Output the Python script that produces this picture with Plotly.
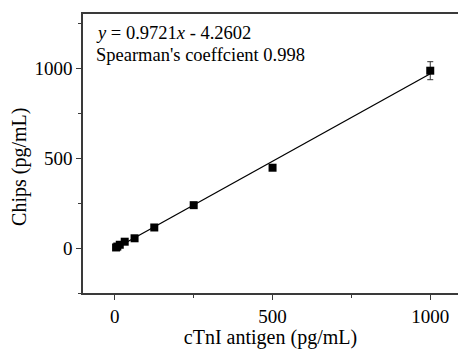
import plotly.graph_objects as go

# Data
antigen = [3.9, 7.8, 15.6, 31.25, 62.5, 125, 250, 500, 1000]
chips = [3, 8, 18, 35, 54, 114, 238, 446, 985]
chips_err = [1, 1, 2, 2, 3, 4, 5, 8, 50]
fit_x = [0, 1000]
fit_y = [-4.3, 967.8]

x_ticks = [0, 500, 1000]
y_ticks = [0, 500, 1000]

FONT = "Liberation Serif, Times New Roman, serif"
AX = "#3a3a3a"

fig = go.Figure()
fig.add_trace(go.Scatter(x=fit_x, y=fit_y, mode="lines",
                         line=dict(color="black", width=1.3), showlegend=False))
fig.add_trace(go.Scatter(x=antigen, y=chips, mode="markers",
                         marker=dict(symbol="square", size=8, color="black"),
                         error_y=dict(type="data", array=chips_err, color="#333",
                                      thickness=1, width=3),
                         showlegend=False))

fig.add_annotation(xref="x", yref="y", x=-65, y=1195, xanchor="left", yanchor="middle",
                   showarrow=False, text="<i>y</i> = 0.9721<i>x</i> - 4.2602",
                   font=dict(family=FONT, size=18.5, color="black"))
fig.add_annotation(xref="x", yref="y", x=-65, y=1074, xanchor="left", yanchor="middle",
                   showarrow=False, text="Spearman's coeffcient 0.998",
                   font=dict(family=FONT, size=18.5, color="black"))
fig.add_annotation(xref="paper", yref="paper", x=-0.168, y=0.452, xanchor="center", yanchor="middle",
                   showarrow=False, text="Chips (pg/mL)", textangle=-90,
                   font=dict(family=FONT, size=20, color="black"))

fig.update_layout(
    width=458, height=349,
    margin=dict(l=83, r=0, t=14, b=56),
    plot_bgcolor="white", paper_bgcolor="white",
    font=dict(family=FONT, size=18, color="black"),
    xaxis=dict(range=[-101, 1088], tickvals=x_ticks, ticks="outside", ticklen=5,
               tickcolor=AX, showline=True, linecolor=AX, linewidth=1.5, mirror=True,
               showgrid=False, zeroline=False, tickfont=dict(family=FONT, size=19),
               minor=dict(tickvals=[250, 750], ticks="outside", ticklen=3, tickcolor=AX),
               title=dict(text="cTnI antigen (pg/mL)", font=dict(family=FONT, size=20), standoff=9)),
    yaxis=dict(range=[-250, 1300], tickvals=y_ticks, ticks="outside", ticklen=5,
               tickcolor=AX, showline=True, linecolor=AX, linewidth=1.5, mirror=False,
               showgrid=False, zeroline=False, tickfont=dict(family=FONT, size=19),
               minor=dict(tickvals=[-250, 250, 750, 1250], ticks="outside", ticklen=3, tickcolor=AX)),
)

fig.write_html("out.html", config={"displayModeBar": False},
               post_script="document.body.style.margin='0';document.body.style.overflow='hidden';")
